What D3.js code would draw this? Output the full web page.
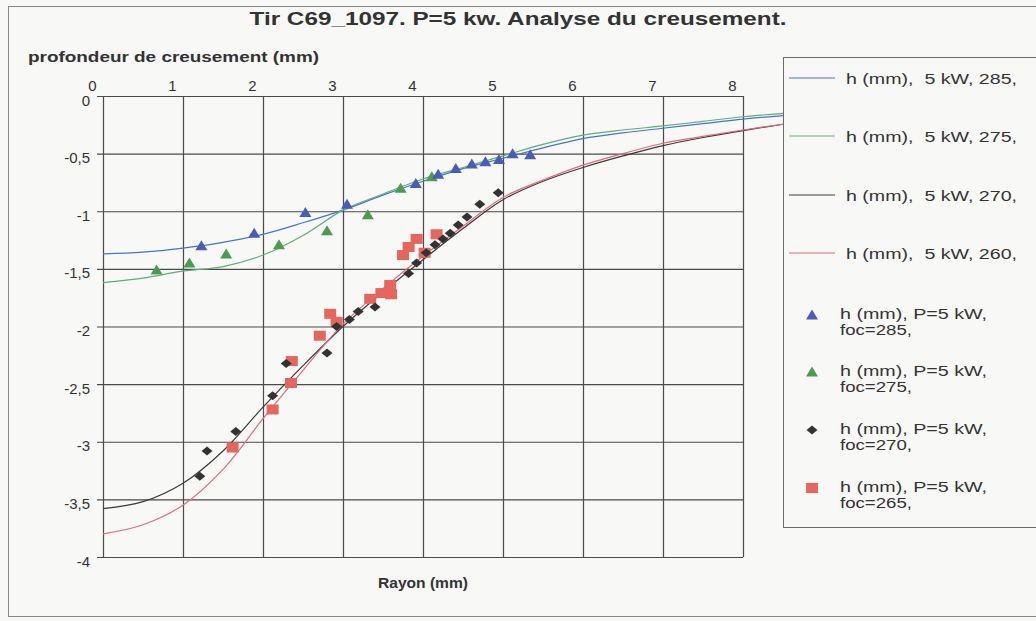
<!DOCTYPE html>
<html><head><meta charset="utf-8">
<script src="https://cdn.jsdelivr.net/npm/d3@7"></script>
<style>
html,body{margin:0;padding:0;background:#f8f8f6;}
svg{display:block;font-family:"Liberation Sans",Arial,sans-serif;}
text{white-space:pre;}
</style></head>
<body>
<svg id="chart" width="1036" height="621"></svg>
<script>
// ---- data ----
const title = "Tir C69_1097. P=5 kw. Analyse du creusement.";
const yTitle = "profondeur de creusement (mm)";
const xTitle = "Rayon (mm)";
const xTicks = [0,1,2,3,4,5,6,7,8];
const yTicks = [0,-0.5,-1,-1.5,-2,-2.5,-3,-3.5,-4];

const fitX = [0,0.5,1,1.5,2,2.5,3,3.5,4,4.5,5,5.5,6,6.5,7,7.5,8,8.5];
const fit285 = [-1.37,-1.355,-1.32,-1.27,-1.20,-1.10,-0.99,-0.86,-0.74,-0.63,-0.54,-0.45,-0.37,-0.32,-0.28,-0.24,-0.20,-0.17];
const fit275 = [-1.62,-1.58,-1.52,-1.48,-1.38,-1.21,-0.99,-0.85,-0.72,-0.62,-0.52,-0.42,-0.34,-0.295,-0.26,-0.22,-0.18,-0.15];
const fit270 = [-3.58,-3.52,-3.36,-3.08,-2.70,-2.34,-2.0,-1.70,-1.42,-1.15,-0.90,-0.74,-0.62,-0.52,-0.43,-0.36,-0.30,-0.245];
const fit260 = [-3.80,-3.72,-3.55,-3.24,-2.80,-2.38,-1.98,-1.67,-1.39,-1.13,-0.88,-0.73,-0.60,-0.50,-0.41,-0.35,-0.295,-0.245];

const m285x = [1.23,1.89,2.53,3.05,3.91,4.19,4.41,4.61,4.78,4.95,5.12,5.34];
const m285y = [-1.30,-1.19,-1.01,-0.94,-0.76,-0.68,-0.63,-0.59,-0.57,-0.55,-0.50,-0.51];
const m275x = [0.67,1.08,1.54,2.20,2.80,3.31,3.72,4.11];
const m275y = [-1.51,-1.45,-1.37,-1.29,-1.17,-1.03,-0.80,-0.70];
const m270x = [1.21,1.30,1.66,2.12,2.29,2.80,2.92,3.08,3.19,3.40,3.82,3.92,4.04,4.15,4.25,4.34,4.44,4.55,4.71,4.94];
const m270y = [-3.30,-3.08,-2.91,-2.60,-2.32,-2.23,-2.00,-1.94,-1.87,-1.83,-1.54,-1.45,-1.36,-1.29,-1.24,-1.19,-1.12,-1.05,-0.94,-0.84];
const m265x = [1.62,2.12,2.35,2.36,2.71,2.84,2.92,3.34,3.48,3.60,3.59,3.75,3.82,3.92,4.02,4.17];
const m265y = [-3.05,-2.72,-2.49,-2.30,-2.08,-1.89,-1.96,-1.76,-1.71,-1.72,-1.64,-1.38,-1.31,-1.24,-1.36,-1.20];

const lineLabels = ["h (mm),  5 kW, 285,","h (mm),  5 kW, 275,","h (mm),  5 kW, 270,","h (mm),  5 kW, 260,"];
const markLabels1 = ["h (mm), P=5 kW,","h (mm), P=5 kW,","h (mm), P=5 kW,","h (mm), P=5 kW,"];
const markLabels2 = ["foc=285,","foc=275,","foc=270,","foc=265,"];

// ---- styles ----
const lineColors = ["#4a72d4","#5fae78","#3a3a3a","#e26a7c"];
const markColors = ["#4a5cb6","#4e9a52","#333333","#e5665f"];
const markShapes = ["tri","tri","dia","sq"];
const txt = "#333333";

const svg = d3.select("#chart");
const x = d3.scaleLinear().domain([0,8]).range([103,743]);
const y = d3.scaleLinear().domain([-4,0]).range([557,96]);

// outer frame
svg.append("rect").attr("x",8.5).attr("y",6.5).attr("width",1040).attr("height",610)
  .attr("fill","#f8f8f6").attr("stroke","#8a8a8a").attr("stroke-width",1);

function stretchText(g, s, xPos, yPos, size, bold, len, anchor){
  const t = g.append("text").attr("x",xPos).attr("y",yPos).attr("font-size",size)
    .attr("fill",txt).attr("text-anchor",anchor||"start").text(s);
  if(bold) t.attr("font-weight","bold");
  if(len) t.attr("textLength",len).attr("lengthAdjust","spacingAndGlyphs");
  return t;
}

// titles
stretchText(svg, title, 518, 25, 18, true, 537, "middle");
stretchText(svg, yTitle, 28, 62, 14, true, 291);
stretchText(svg, xTitle, 423, 588, 14, true, 90, "middle");

const fmt = d => String(d).replace(".", ",");

// gridlines via axes
const gx = svg.append("g").attr("transform",`translate(0,${y(0)})`)
  .call(d3.axisTop(x).tickValues(xTicks).tickSize(-(y(-4)-y(0))).tickFormat(fmt));
gx.select(".domain").remove();
gx.selectAll(".tick line").attr("stroke","#4a4a4a").attr("stroke-width",1.2);
gx.selectAll(".tick text").attr("font-size",15).attr("fill",txt)
  .attr("dx",-11).attr("y",-5).style("font-family","Liberation Sans, Arial, sans-serif");

const gy = svg.append("g").attr("transform",`translate(${x(0)},0)`)
  .call(d3.axisLeft(y).tickValues(yTicks).tickSizeInner(-(x(8)-x(0))).tickSizeOuter(0).tickPadding(13).tickFormat(fmt));
gy.select(".domain").remove();
gy.selectAll(".tick line").attr("stroke","#4a4a4a").attr("stroke-width",1.2).attr("x1",-6);
gy.selectAll(".tick text").attr("font-size",15).attr("fill",txt).attr("dy","0.6em")
  .style("font-family","Liberation Sans, Arial, sans-serif");

// fitted lines
const fits = [fit285,fit275,fit270,fit260];
const lineGen = d3.line().x(d=>x(d[0])).y(d=>y(d[1])).curve(d3.curveCatmullRom.alpha(0.5));
fits.forEach((vals,i)=>{
  svg.append("path").datum(fitX.map((v,j)=>[v,vals[j]]))
    .attr("d",lineGen).attr("fill","none").attr("stroke",lineColors[i]).attr("stroke-width",1.2);
});

function drawMarker(g, shape, cx, cy, color){
  if(shape==="tri"){
    g.append("path").attr("d",`M${cx},${cy-5.5}L${cx+6},${cy+4.5}L${cx-6},${cy+4.5}Z`).attr("fill",color);
  } else if(shape==="dia"){
    g.append("path").attr("d",`M${cx},${cy-4.5}L${cx+5.5},${cy}L${cx},${cy+4.5}L${cx-5.5},${cy}Z`).attr("fill",color);
  } else {
    g.append("rect").attr("x",cx-6).attr("y",cy-5).attr("width",12).attr("height",10).attr("fill",color);
  }
}
const mx=[m285x,m275x,m270x,m265x], my=[m285y,m275y,m270y,m265y];
[3,2,1,0].forEach(i=>{
  const g=svg.append("g");
  mx[i].forEach((v,j)=>drawMarker(g,markShapes[i],x(v),y(my[i][j]),markColors[i]));
});

// legend
const lg = svg.append("g");
lg.append("rect").attr("x",783.5).attr("y",57.5).attr("width",270).attr("height",470)
  .attr("fill","#f8f8f6").attr("stroke","#6a6a6a").attr("stroke-width",1);
const lineYs=[78,136,195,253];
lineLabels.forEach((t,i)=>{
  lg.append("line").attr("x1",789).attr("x2",835).attr("y1",lineYs[i]).attr("y2",lineYs[i])
    .attr("stroke",lineColors[i]).attr("stroke-width",1.2);
  stretchText(lg, t, 846, lineYs[i]+6, 15, false, 171);
});
const markYs=[315,372,430,488];
markLabels1.forEach((t,i)=>{
  drawMarker(lg,markShapes[i],812,markYs[i],markColors[i]);
  stretchText(lg, t, 840, markYs[i]+4, 14, false, 147);
  stretchText(lg, markLabels2[i], 840, markYs[i]+20, 14, false, 72);
});
</script>
</body></html>
